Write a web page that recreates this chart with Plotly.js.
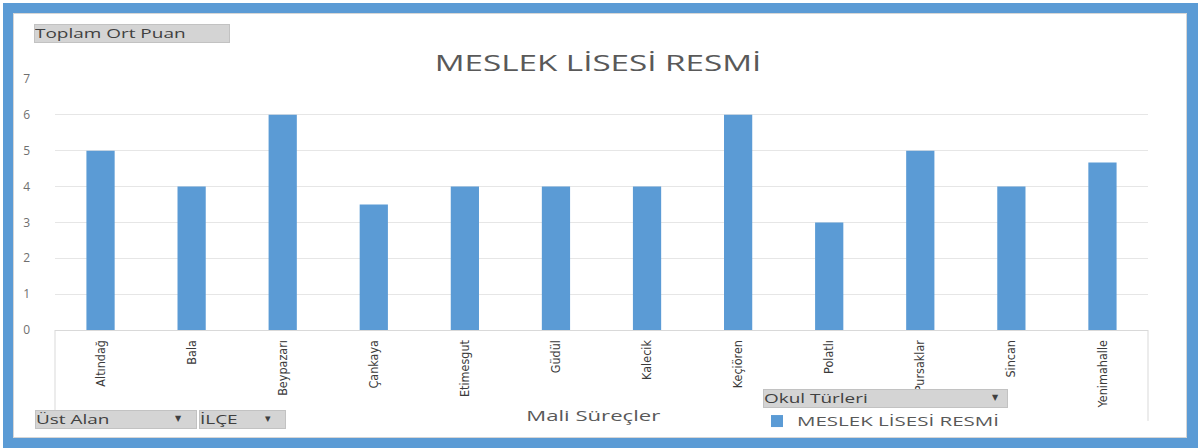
<!DOCTYPE html>
<html>
<head>
<meta charset="utf-8">
<script src="https://cdn.plot.ly/plotly-3.0.1.min.js"></script>
<style>
html,body{margin:0;padding:0;background:#fff;}
#wrap{position:relative;width:1198px;height:448px;}
#chart{width:1198px;height:448px;}
#frame{position:absolute;left:3px;top:3px;right:0;bottom:0;box-sizing:border-box;
  border-style:solid;border-color:#5b9bd5;border-width:10px 11px 10px 10px;pointer-events:none;}
#inner{position:absolute;left:13px;top:13px;right:11px;bottom:10px;border:1px solid #d6d6d6;pointer-events:none;}
</style>
</head>
<body>
<div id="wrap">
<div id="chart"></div>
<div id="inner"></div>
<div id="frame"></div>
</div>
<script>
// Data
const categories = ["Altındağ","Bala","Beypazarı","Çankaya","Etimesgut","Güdül","Kalecik","Keçiören","Polatlı","Pursaklar","Sincan","Yenimahalle"];
const values = [5, 4, 6, 3.5, 4, 4, 4, 6, 3, 5, 4, 4.67];
const seriesName = "MESLEK LİSESİ RESMİ";
const chartTitle = "MESLEK LİSESİ RESMİ";
const yTicks = [0,1,2,3,4,5,6,7];
const xAxisLabel = "Mali Süreçler";
const buttonLabels = {top:"Toplam Ort Puan", area:"Üst Alan", district:"İLÇE", legendHead:"Okul Türleri"};

// Layout geometry (pixels)
const W=1198, H=448, L=55, R=50, T=79, B=115;
const pw=W-L-R, ph=H-T-B;
const px = x => (x-L)/pw;
const py = y => (H-B-y)/ph;
const SX = 1.58; // horizontal stretch of the reference's horizontal text

const txt = '#595959';
const fam = '"Open Sans", "Noto Sans", sans-serif';
const btnFont = {family:fam, size:12, color:'#404040'};

function button(x0, x1, y0, y1, label){
  return {
    xref:'paper', yref:'paper', x:px(x0), y:py(y0), xanchor:'left', yanchor:'top',
    text:label, showarrow:false, align:'left', valign:'middle', width:x1-x0-2, height:y1-y0-2,
    bgcolor:'#d4d4d4', bordercolor:'#c2c2c2', borderwidth:1, borderpad:0, font:btnFont
  };
}
function icon(x, y, t, size){
  return {xref:'paper', yref:'paper', x:px(x), y:py(y), xanchor:'center', yanchor:'middle',
    text:t, showarrow:false, font:{family:'DejaVu Sans', size:size||9, color:'#404040'}};
}

const trace = {
  type:'bar', x:categories, y:values, name:seriesName,
  marker:{color:'#5b9bd5', line:{width:0}}, showlegend:true
};

const layout = {
  width:W, height:H,
  margin:{l:L, r:R, t:T, b:B, pad:0},
  paper_bgcolor:'#ffffff', plot_bgcolor:'#ffffff',
  bargap:0.69,
  title:{text:chartTitle, x:(598)/W, xref:'container', xanchor:'center', y:1-64/H, yanchor:'middle',
    font:{family:fam, size:21, color:txt}},
  xaxis:{type:'category', tickangle:-90, showgrid:false, zeroline:false, showline:true,
    linecolor:'#d9d9d9', linewidth:1, ticks:'', ticklabelstandoff:4,
    tickfont:{family:'"Liberation Sans Narrow", "DejaVu Sans Condensed", sans-serif', size:12.5, color:'#3a3a3a'}},
  yaxis:{range:[0,7], tickvals:yTicks, showgrid:true, gridcolor:'#e6e6e6', gridwidth:1,
    zeroline:false, showline:false, ticks:'', ticklabelstandoff:24,
    tickfont:{family:fam, size:12, color:'#6f6f6f'}},
  legend:{x:px(757), y:py(410), xanchor:'left', yanchor:'top', orientation:'h',
    bgcolor:'rgba(0,0,0,0)', font:{family:fam, size:13, color:txt},
    entrywidth:260, entrywidthmode:'pixels', itemwidth:30, tracegroupgap:0},
  shapes:[
    {type:'line', xref:'paper', yref:'paper', x0:0, x1:0, y0:0, y1:py(428), line:{color:'#d9d9d9', width:1}},
    {type:'line', xref:'paper', yref:'paper', x0:1, x1:1, y0:0, y1:py(425), line:{color:'#d9d9d9', width:1}}
  ],
  annotations:[
    button(34, 230, 23, 42, buttonLabels.top),
    button(35, 197, 414, 433, buttonLabels.area),
    icon(178, 423, '▼', 8),
    button(199, 286, 414, 433, buttonLabels.district),
    icon(268, 423, '▾', 11),
    button(763, 1008, 393, 412, buttonLabels.legendHead),
    icon(996, 401, '▼', 8),
    {xref:'paper', yref:'paper', x:px(593), y:py(420), xanchor:'center', yanchor:'middle',
      text:xAxisLabel, showarrow:false, font:{family:fam, size:14, color:txt}}
  ]
};

function stretchText(){
  const gd = document.getElementById('chart');
  const setS = (el, origin) => {
    el.style.transformBox = 'fill-box';
    el.style.transformOrigin = origin;
    el.style.transform = 'scaleX(' + SX + ')';
  };
  gd.querySelectorAll('.gtitle').forEach(el => setS(el, 'center center'));
  gd.querySelectorAll('.legendtext').forEach(el => setS(el, 'left center'));
  gd.querySelectorAll('.legend .scrollbox').forEach(el => el.removeAttribute('clip-path'));
  gd.querySelectorAll('.annotation').forEach(g => {
    const t = g.querySelector('.annotation-text');
    if (!t) return;
    const s = t.textContent;
    if (s === xAxisLabel) setS(t, 'center center');
    else if (Object.values(buttonLabels).includes(s)) setS(t, 'left center');
  });
}

Plotly.newPlot('chart', [trace], layout, {displayModeBar:false, staticPlot:true}).then(stretchText);
</script>
</body>
</html>
